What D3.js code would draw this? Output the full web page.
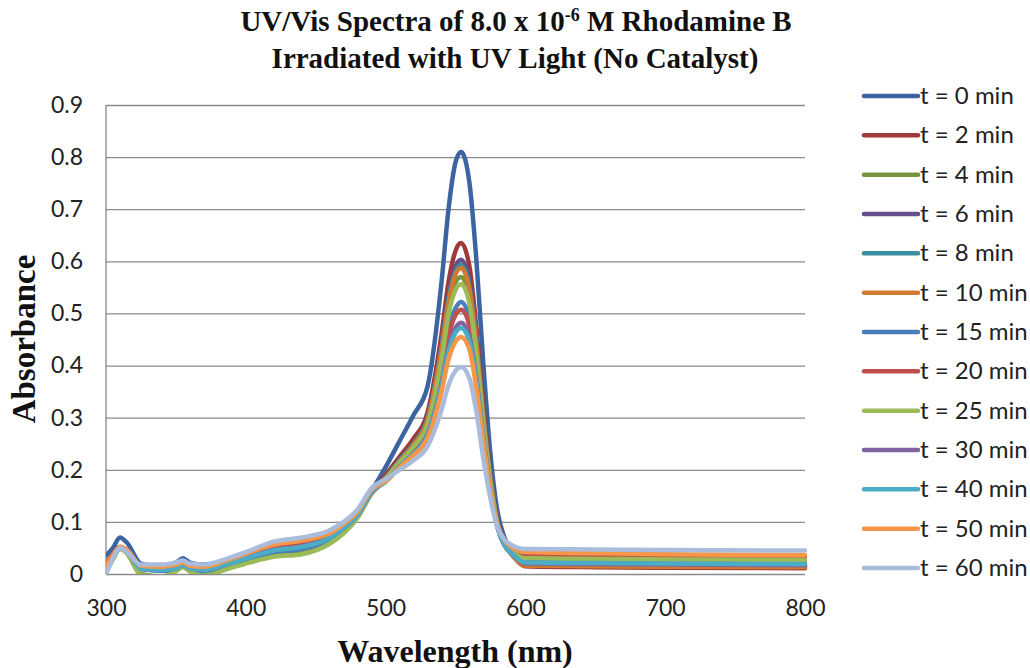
<!DOCTYPE html>
<html>
<head>
<meta charset="utf-8">
<script src="https://cdn.jsdelivr.net/npm/d3@7"></script>
<style>
  body { margin: 0; background: #fff; }
  .tick text { font-family: Lato, "Open Sans", sans-serif; font-size: 23px; fill: #222; }
  .grid line { stroke: #8a8a8a; stroke-width: 1.3; }
  .grid path { display: none; }
</style>
</head>
<body>
<div id="chart"></div>
<script>
// wavelengths (nm) shared by all series
var wavelengths = [300, 305, 310, 315, 325, 340, 350, 355, 360, 370, 385, 400, 420, 440, 460, 470, 480, 490,
  500, 510, 520, 530, 540, 545, 550, 554, 560, 565, 570, 575, 580, 585, 590,
  600, 650, 700, 800];

var seriesNames = ["t = 0 min", "t = 2 min", "t = 4 min", "t = 6 min", "t = 8 min", "t = 10 min", "t = 15 min",
  "t = 20 min", "t = 25 min", "t = 30 min", "t = 40 min", "t = 50 min", "t = 60 min"];

var seriesColors = ["#3b64a0", "#a03a38", "#77933c", "#664f8a", "#3a8fa0", "#d07a30", "#4a7ebb",
  "#c0504d", "#9bbb59", "#8064a2", "#4bacc6", "#f79646", "#a9bcdc"];

// absorbance, one array per time
var abs0 = [0.035,0.05,0.07,0.06,0.02,0.015,0.022,0.03,0.022,0.018,0.025,0.04,0.055,0.062,0.078,0.095,0.12,0.16,
  0.205,0.255,0.305,0.36,0.56,0.70,0.79,0.81,0.75,0.60,0.40,0.23,0.12,0.07,0.045,
  0.02,0.018,0.016,0.015];
var abs2 = [0.012,0.035,0.052,0.045,0.012,0.01,0.013,0.018,0.012,0.01,0.02,0.033,0.048,0.055,0.072,0.09,0.115,0.158,
  0.19,0.225,0.26,0.31,0.46,0.56,0.62,0.635,0.59,0.47,0.32,0.19,0.10,0.06,0.04,
  0.015,0.013,0.012,0.011];
var abs4 = [0.005,0.03,0.05,0.04,0.0,-0.005,0.006,0.014,0.006,-0.003,0.01,0.022,0.035,0.04,0.06,0.08,0.11,0.155,
  0.18,0.215,0.245,0.29,0.42,0.51,0.56,0.57,0.53,0.43,0.29,0.18,0.095,0.058,0.042,
  0.028,0.027,0.026,0.025];
var abs6 = [0.01,0.034,0.05,0.044,0.01,0.008,0.011,0.017,0.011,0.008,0.018,0.03,0.045,0.052,0.07,0.088,0.114,0.158,
  0.185,0.22,0.25,0.30,0.44,0.535,0.59,0.603,0.56,0.45,0.305,0.185,0.098,0.058,0.038,
  0.018,0.017,0.016,0.015];
var abs8 = [0.012,0.035,0.05,0.044,0.01,0.007,0.01,0.016,0.01,0.007,0.017,0.03,0.044,0.05,0.068,0.087,0.113,0.157,
  0.185,0.218,0.25,0.298,0.435,0.527,0.58,0.593,0.55,0.445,0.30,0.183,0.097,0.058,0.04,
  0.02,0.019,0.018,0.017];
var abs10 = [0.02,0.038,0.052,0.046,0.014,0.01,0.013,0.018,0.012,0.01,0.02,0.034,0.05,0.057,0.073,0.091,0.116,0.158,
  0.184,0.216,0.248,0.295,0.43,0.52,0.575,0.587,0.545,0.44,0.298,0.18,0.095,0.057,0.038,
  0.016,0.015,0.014,0.013];
var abs15 = [0.015,0.035,0.05,0.044,0.01,0.006,0.01,0.016,0.01,0.006,0.015,0.028,0.042,0.048,0.066,0.085,0.112,0.156,
  0.18,0.21,0.24,0.28,0.39,0.47,0.51,0.522,0.49,0.40,0.275,0.17,0.092,0.058,0.042,
  0.024,0.022,0.021,0.02];
var abs20 = [0.018,0.037,0.052,0.046,0.015,0.012,0.015,0.02,0.014,0.012,0.022,0.036,0.052,0.06,0.075,0.093,0.118,0.16,
  0.18,0.21,0.238,0.275,0.38,0.455,0.497,0.507,0.476,0.39,0.27,0.168,0.095,0.062,0.05,
  0.038,0.036,0.034,0.033];
var abs25 = [0.003,0.028,0.048,0.04,-0.002,-0.006,0.005,0.013,0.005,-0.004,0.008,0.02,0.033,0.038,0.058,0.078,0.108,0.154,
  0.182,0.214,0.244,0.287,0.41,0.498,0.545,0.556,0.518,0.42,0.287,0.176,0.095,0.06,0.045,
  0.03,0.029,0.028,0.027];
var abs30 = [0.012,0.034,0.05,0.044,0.011,0.008,0.011,0.017,0.011,0.008,0.018,0.031,0.046,0.053,0.07,0.088,0.114,0.157,
  0.178,0.206,0.232,0.268,0.365,0.435,0.472,0.482,0.454,0.373,0.26,0.163,0.09,0.055,0.04,
  0.02,0.019,0.018,0.017];
var abs40 = [0.01,0.033,0.05,0.044,0.01,0.008,0.011,0.017,0.011,0.008,0.018,0.03,0.045,0.052,0.069,0.088,0.114,0.158,
  0.177,0.205,0.23,0.265,0.36,0.427,0.463,0.472,0.445,0.366,0.256,0.16,0.09,0.056,0.04,
  0.022,0.021,0.02,0.019];
var abs50 = [0.015,0.036,0.052,0.046,0.016,0.014,0.018,0.022,0.016,0.014,0.025,0.039,0.056,0.064,0.078,0.096,0.12,0.162,
  0.178,0.204,0.228,0.26,0.35,0.412,0.446,0.455,0.43,0.355,0.25,0.16,0.095,0.065,0.052,
  0.042,0.04,0.038,0.036];
var abs60 = [0.0,0.03,0.05,0.042,0.018,0.018,0.022,0.026,0.02,0.018,0.028,0.042,0.062,0.07,0.084,0.10,0.124,0.165,
  0.182,0.20,0.218,0.245,0.315,0.362,0.39,0.397,0.375,0.31,0.22,0.145,0.09,0.066,0.056,
  0.048,0.047,0.046,0.045];

var allSeries = [abs0, abs2, abs4, abs6, abs8, abs10, abs15, abs20, abs25, abs30, abs40, abs50, abs60];

var yTicks = [0, 0.1, 0.2, 0.3, 0.4, 0.5, 0.6, 0.7, 0.8, 0.9];
var xTicks = [300, 400, 500, 600, 700, 800];

var width = 1030, height = 668;
var plot = { left: 106, right: 805, top: 105, bottom: 574 };

var svg = d3.select("#chart").append("svg")
  .attr("width", width)
  .attr("height", height);

var xScale = d3.scaleLinear().domain([300, 800]).range([plot.left, plot.right]);
var yScale = d3.scaleLinear().domain([0, 0.9]).range([plot.bottom, plot.top]);

// horizontal gridlines with y labels
svg.append("g")
  .attr("class", "grid")
  .attr("transform", "translate(" + plot.left + ",0)")
  .call(d3.axisLeft(yScale).tickValues(yTicks)
    .tickSize(-(plot.right - plot.left))
    .tickPadding(23)
    .tickFormat(function (d) { return d === 0 ? "0" : d3.format(".1f")(d); }));

// left axis line
svg.append("line")
  .attr("x1", plot.left).attr("x2", plot.left)
  .attr("y1", plot.top).attr("y2", plot.bottom)
  .attr("stroke", "#8a8a8a").attr("stroke-width", 1.3);

// x labels
svg.append("g")
  .attr("class", "grid")
  .attr("transform", "translate(0," + plot.bottom + ")")
  .call(d3.axisBottom(xScale).tickValues(xTicks).tickSize(0).tickPadding(26))
  .selectAll("line").remove();

// clip so the lines stay inside the plot area
svg.append("clipPath").attr("id", "plotclip")
  .append("rect")
  .attr("x", plot.left).attr("y", plot.top - 10)
  .attr("width", plot.right - plot.left + 3)
  .attr("height", plot.bottom - plot.top + 10);

var lineGen = d3.line()
  .x(function (d, i) { return xScale(wavelengths[i]); })
  .y(function (d) { return yScale(d); })
  .curve(d3.curveMonotoneX);

var lines = svg.append("g").attr("clip-path", "url(#plotclip)");
for (let i = 0; i < allSeries.length; i++) {
  lines.append("path")
    .attr("d", lineGen(allSeries[i]))
    .attr("fill", "none")
    .attr("stroke", seriesColors[i])
    .attr("stroke-width", 4.5)
    .attr("stroke-linejoin", "round")
    .attr("stroke-linecap", "round");
}

// legend
var legend = svg.append("g");
for (let i = 0; i < seriesNames.length; i++) {
  var ly = 96 + i * 39.33;
  legend.append("line")
    .attr("x1", 864).attr("x2", 918)
    .attr("y1", ly).attr("y2", ly)
    .attr("stroke", seriesColors[i])
    .attr("stroke-width", 4.5)
    .attr("stroke-linecap", "round");
  legend.append("text")
    .attr("x", 920).attr("y", ly + 8)
    .attr("font-family", "Lato, 'Open Sans', sans-serif")
    .attr("font-size", "24px")
    .attr("fill", "#222")
    .text(seriesNames[i]);
}

// title
var serif = "'Liberation Serif', 'Times New Roman', serif";
var title = svg.append("text")
  .attr("x", 516).attr("y", 31)
  .attr("text-anchor", "middle")
  .attr("font-family", serif)
  .attr("font-weight", "bold")
  .attr("font-size", "29px")
  .attr("fill", "#111");
title.append("tspan").text("UV/Vis  Spectra of 8.0 x 10");
title.append("tspan").attr("baseline-shift", "super").attr("font-size", "18px").text("-6");
title.append("tspan").text(" M Rhodamine B");

svg.append("text")
  .attr("x", 515).attr("y", 68)
  .attr("text-anchor", "middle")
  .attr("font-family", serif)
  .attr("font-weight", "bold")
  .attr("font-size", "29px")
  .attr("fill", "#111")
  .text("Irradiated with UV Light (No Catalyst)");

// axis titles
svg.append("text")
  .attr("transform", "translate(35," + 339 + ") rotate(-90)")
  .attr("text-anchor", "middle")
  .attr("font-family", serif)
  .attr("font-weight", "bold")
  .attr("font-size", "33px")
  .attr("fill", "#111")
  .text("Absorbance");

svg.append("text")
  .attr("x", 455).attr("y", 662)
  .attr("text-anchor", "middle")
  .attr("font-family", serif)
  .attr("font-weight", "bold")
  .attr("font-size", "32px")
  .attr("fill", "#111")
  .text("Wavelength (nm)");
</script>
</body>
</html>
